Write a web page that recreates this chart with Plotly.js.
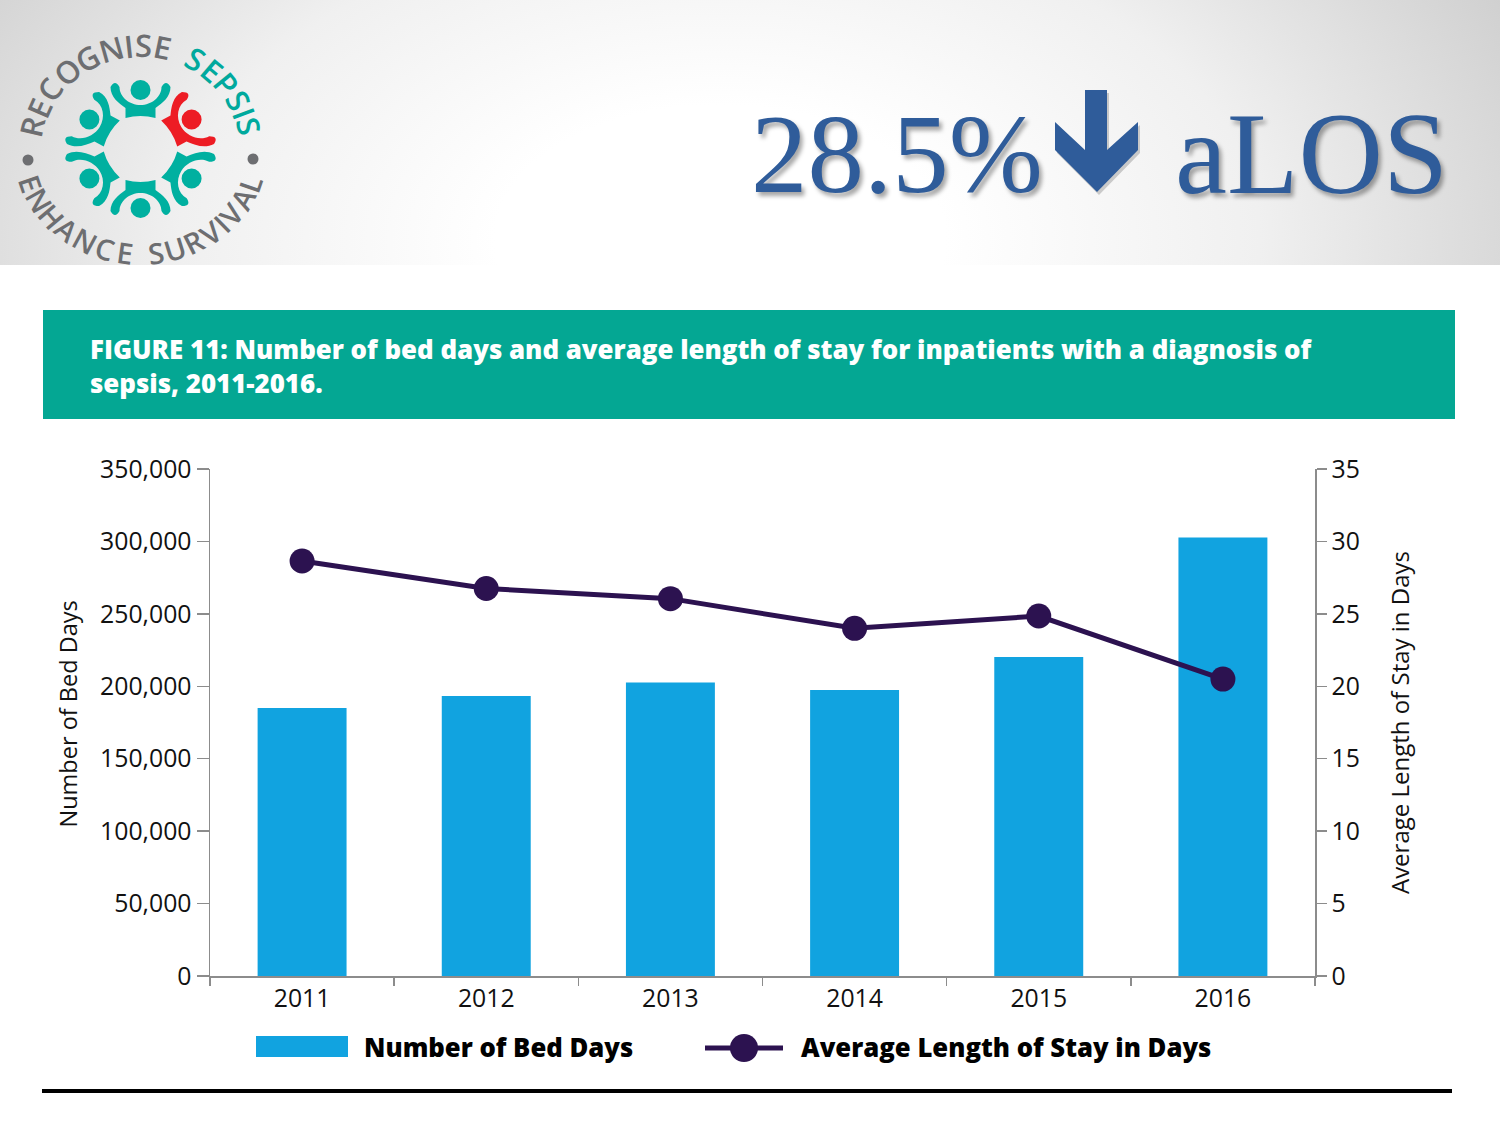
<!DOCTYPE html>
<html><head><meta charset="utf-8">
<script src="https://cdn.plot.ly/plotly-3.0.1.min.js"></script>
<style>html,body{margin:0;padding:0;background:#fff}#c{width:1500px;height:1125px}</style>
</head><body><div id="c"></div>
<script>
const years = ['2011','2012','2013','2014','2015','2016'];
const bedDays = [185000,193300,202600,197400,220200,302700];
const avgStay = [28.65,26.75,26.05,24,24.85,20.5];
const bedName = 'Number of Bed Days';
const stayName = 'Average Length of Stay in Days';
const figureTitle = 'FIGURE 11: Number of bed days and average length of stay for inpatients with a diagnosis of<br>sepsis, 2011-2016.';

const W=1500,H=1125;
const px=x=>x/W, py=y=>1-y/H;
const BLUE='#11a3e0', PURPLE='#2c1250', TEAL='#04a793', AXIS='#8c8c8c', HEAD='#2f5c9a';
const annotations=[], shapes=[];
const note=(text,x,y,font,extra)=>annotations.push(Object.assign({text,x:px(x),y:py(y),xref:'paper',yref:'paper',showarrow:false,xanchor:'left',yanchor:'middle',align:'left',font,borderpad:0},extra||{}));
const poly=(pts,fill,extra)=>shapes.push(Object.assign({type:'path',xref:'paper',yref:'paper',path:'M'+pts.map(p=>px(p[0])+','+py(p[1])).join('L')+'Z',fillcolor:fill,line:{width:0}},extra||{}));

// header gradient
const svg=`<svg xmlns="http://www.w3.org/2000/svg" width="1500" height="265"><defs><radialGradient id="g" gradientUnits="userSpaceOnUse" cx="720" cy="240" r="900" gradientTransform="translate(720 240) scale(1 .6) translate(-720 -240)"><stop offset="0.25" stop-color="#ffffff"/><stop offset="0.6" stop-color="#f0f0f0"/><stop offset="1" stop-color="#cecece"/></radialGradient></defs><rect width="1500" height="265" fill="url(#g)"/></svg>`;
const images=[{source:'data:image/svg+xml,'+encodeURIComponent(svg),xref:'paper',yref:'paper',x:0,y:1,sizex:1,sizey:265/H,sizing:'stretch',xanchor:'left',yanchor:'top',layer:'below'}];

// banner, bottom rule
shapes.push({type:'rect',xref:'paper',yref:'paper',x0:px(43),x1:px(1455),y0:py(419),y1:py(310),fillcolor:TEAL,line:{width:0},layer:'below'});
shapes.push({type:'rect',xref:'paper',yref:'paper',x0:px(42),x1:px(1452),y0:py(1093),y1:py(1089),fillcolor:'#000',line:{width:0}});
note(figureTitle,89,366.5,{family:'Open Sans',size:25.85,color:'#fff',weight:800},{});

// headline
const shadow='3px 4px 4px rgba(0,0,0,0.35)';
note('28.5%',750,153,{family:'Liberation Serif',size:113,color:HEAD,shadow});
note('aLOS',1174,153,{family:'Liberation Serif',size:117,color:HEAD,shadow});
const arrow=[[1085,90],[1107,90],[1107,150],[1138,122],[1138,150],[1097,192],[1055,150],[1055,122],[1085,150]];
poly(arrow.map(p=>[p[0]+2,p[1]+3]),'rgba(0,0,0,0.18)');
poly(arrow,HEAD);

// legend
shapes.push({type:'rect',xref:'paper',yref:'paper',x0:px(256),x1:px(348),y0:py(1057),y1:py(1036),fillcolor:BLUE,line:{width:0}});
note(bedName,363,1047,{family:'Open Sans',size:25.7,color:'#000',weight:800});
shapes.push({type:'line',xref:'paper',yref:'paper',x0:px(705),x1:px(783),y0:py(1048),y1:py(1048),line:{color:PURPLE,width:5}});
shapes.push({type:'circle',xref:'paper',yref:'paper',x0:px(730),x1:px(758),y0:py(1062),y1:py(1034),fillcolor:PURPLE,line:{width:0}});
note(stayName,800,1047,{family:'Open Sans',size:25.7,color:'#000',weight:800});

// left axis title
annotations.push({text:bedName,x:px(67),y:py(714.5),xref:'paper',yref:'paper',showarrow:false,xanchor:'center',yanchor:'middle',textangle:-90,font:{family:'Open Sans',size:23.5,color:'#111'}});

// logo
const cx=140.5,cy=149,GREY='#6d6e71',LT='#00a99d',FIG='#00b0a0',RED='#ed1c24';
function letter(ch,x,y,ang,color,size){annotations.push({text:ch,x:px(x),y:py(y),xref:'paper',yref:'paper',showarrow:false,xanchor:'center',yanchor:'middle',textangle:ang,font:{family:'Open Sans',size,color,weight:600}});}
const widths={I:0.45,' ':0.7,M:1.2,O:1.2,C:1.1,G:1.15,N:1.15,H:1.15,A:1.05,U:1.05,V:1.05,L:0.85,E:0.92,S:0.9};
function arc(text,a0,a1,fn){const ch=[...text],w=ch.map(c=>widths[c]||1);let tot=0;w.forEach((v,i)=>{if(i>0)tot+=(w[i-1]+v)/2;});let acc=0;ch.forEach((c,i)=>{if(i>0)acc+=(w[i-1]+w[i])/2;if(c!==' ')fn(c,i,a0+(a1-a0)*acc/tot);});}
arc('RECOGNISE SEPSIS',-77,77,(c,i,d)=>{const t=d*Math.PI/180;letter(c,cx+111*Math.sin(t),150-105*Math.cos(t),d,i>9?LT:GREY,31);});
arc('ENHANCE SURVIVAL',-71,71,(c,i,d)=>{const t=d*Math.PI/180;letter(c,cx+116*Math.sin(t),150+103*Math.cos(t),-d,GREY,29);});
[[28,160],[253,159]].forEach(d=>shapes.push({type:'circle',xref:'paper',yref:'paper',x0:px(d[0]-5.5),x1:px(d[0]+5.5),y0:py(d[1]+5.5),y1:py(d[1]-5.5),fillcolor:GREY,line:{width:0}}));
const figCmd=[['M',-30,-62],['C',-30,-52,-22,-46,-15,-41],['L',-15,-31],['Q',0,-35,15,-31],['L',15,-41],['C',22,-46,30,-52,30,-62],['Q',25.5,-70,21,-62],['C',21,-52,11,-44,0,-44],['C',-11,-44,-21,-52,-21,-62],['Q',-25.5,-70,-30,-62]];
[0,60,120,180,240,300].forEach(a=>{
  const r=a*Math.PI/180,col=a===60?RED:FIG,st=a%180===0?1:1.07;
  const rot=(x,y)=>[cx+x*Math.cos(r)-y*Math.sin(r),cy+x*Math.sin(r)+y*Math.cos(r)];
  const path=figCmd.map(c=>{let s=c[0];for(let i=1;i<c.length;i+=2){const p=rot(c[i],c[i+1]);s+=(i>1?' ':'')+px(cx+(p[0]-cx)*st)+','+py(p[1]);}return s;}).join(' ')+' Z';
  shapes.push({type:'path',xref:'paper',yref:'paper',path,fillcolor:col,line:{width:0}});
  const h=rot(0,-59);
  shapes.push({type:'circle',xref:'paper',yref:'paper',x0:px(h[0]-10),x1:px(h[0]+10),y0:py(h[1]+10),y1:py(h[1]-10),fillcolor:col,line:{width:0}});
});

const tickFont={family:'Open Sans',size:24.8,color:'#111'};
const data=[
 {type:'bar',x:years,y:bedDays,name:bedName,marker:{color:BLUE},yaxis:'y'},
 {type:'scatter',mode:'lines+markers',x:years,y:avgStay,name:stayName,yaxis:'y2',line:{color:PURPLE,width:5},marker:{color:PURPLE,size:25}}
];
const layout={
 width:W,height:H,margin:{l:0,r:0,t:0,b:0},paper_bgcolor:'#fff',plot_bgcolor:'rgba(0,0,0,0)',
 showlegend:false,bargap:0.517,images,shapes,annotations,
 xaxis:{type:'category',domain:[px(210),px(1315)],tickson:'boundaries',ticks:'outside',ticklen:8,tickwidth:1.5,tickcolor:AXIS,showline:true,linecolor:AXIS,linewidth:1.5,showgrid:false,tickfont:tickFont,automargin:false},
 yaxis:{domain:[py(976),py(469)],range:[0,350000],dtick:50000,tickformat:',d',ticks:'outside',ticklen:12,tickwidth:1.5,tickcolor:AXIS,showline:true,linecolor:AXIS,linewidth:1.5,showgrid:false,zeroline:false,tickfont:tickFont,automargin:false},
 yaxis2:{overlaying:'y',side:'right',range:[0,35],dtick:5,ticks:'outside',ticklen:10,tickwidth:1.5,tickcolor:AXIS,showline:true,linecolor:AXIS,linewidth:1.5,showgrid:false,zeroline:false,tickfont:tickFont,automargin:false,title:{text:stayName,font:{family:'Open Sans',size:24,color:'#111'},standoff:33}}
};
Plotly.newPlot('c',data,layout,{displayModeBar:false,staticPlot:true});
</script></body></html>
